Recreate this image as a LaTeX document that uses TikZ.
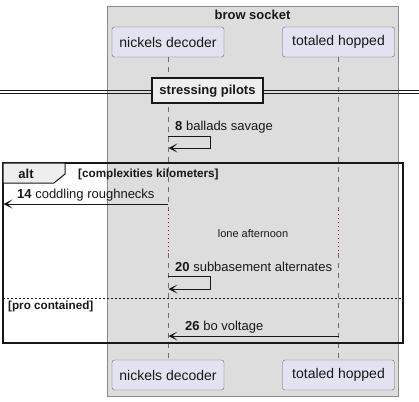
\documentclass[tikz,border=0pt]{standalone}
\usepackage{fontspec}
\setmainfont{Liberation Sans}
\usetikzlibrary{arrows.meta}
\definecolor{boxgray}{HTML}{DDDDDD}
\definecolor{boxline}{HTML}{8A8A8A}
\definecolor{partfill}{HTML}{E2E2F0}
\definecolor{partline}{HTML}{666666}
\definecolor{ink}{HTML}{181818}
\definecolor{tabfill}{HTML}{EEEEEE}
\definecolor{delayred}{HTML}{B00030}
\tikzset{
  part/.style={draw=partline, fill=partfill, rounded corners=2.5pt, minimum width=112pt, minimum height=30pt, inner sep=0pt, font=\fontsize{14}{16}\selectfont, text=ink},
  life/.style={draw=boxline!80!black, dash pattern=on 5pt off 5pt, line width=0.6pt},
  delayline/.style={draw=delayred, dash pattern=on 1pt off 3pt, line width=0.6pt},
  msg/.style={draw=ink, line width=0.9pt, -{Stealth[length=9pt,width=9pt,inset=5pt]}},
  msgtext/.style={anchor=west, inner sep=0pt, font=\fontsize{13}{15}\selectfont, text=ink},
  small/.style={inner sep=0pt, font=\fontsize{11}{13}\selectfont, text=ink},
  smallbold/.style={inner sep=0pt, font=\bfseries\fontsize{11.7}{13}\selectfont, text=ink, anchor=west},
  boldlabel/.style={inner sep=0pt, font=\bfseries\fontsize{13}{15}\selectfont, text=ink}
}
\begin{document}
\begin{tikzpicture}[x=1pt,y=-1pt]
\useasboundingbox (0,0) rectangle (419,401);
% grouping box
\node[name=box, draw=boxline, fill=boxgray, minimum width=291pt, minimum height=390pt, inner sep=0pt, anchor=north west] at (107,6) {};
\node[boldlabel, name=boxtitle] at (252.5,15) {brow socket};
% participants
\node[part, name=nd] at (168,42) {nickels decoder};
\node[part, name=th] at (338.5,42) {totaled hopped};
\node[part, name=ndb] at (168,375) {nickels decoder};
\node[part, name=thb] at (338.5,375) {totaled hopped};
% lifeline coordinates
\coordinate (ndd1) at (168,210);
\coordinate (ndd2) at (168,253);
\coordinate (thd1) at (338.5,210);
\coordinate (thd2) at (338.5,253);
\draw[life] (nd.south) -- (ndd1);
\draw[delayline] (ndd1) -- (ndd2);
\draw[life] (ndd2) -- (ndb.north);
\draw[life] (th.south) -- (thd1);
\draw[delayline] (thd1) -- (thd2);
\draw[life] (thd2) -- (thb.north);
% divider
\coordinate (dl1) at (0,90);
\coordinate (dr1) at (419,90);
\coordinate (dl2) at (0,93.5);
\coordinate (dr2) at (419,93.5);
\draw[ink, line width=0.9pt] (dl1) -- (dr1);
\draw[ink, line width=0.9pt] (dl2) -- (dr2);
\node[name=div, draw=ink, line width=1.5pt, fill=tabfill, minimum width=111pt, minimum height=25pt, inner sep=0pt, font=\bfseries\fontsize{13}{15}\selectfont, text=ink] at (207.5,90.7) {stressing pilots};
% message 8
\node[msgtext, name=m8] at (175,127) {\textbf{8} ballads savage};
\coordinate (s8a) at (168,136);
\coordinate (s8b) at (210,136);
\coordinate (s8c) at (210,148);
\coordinate (s8d) at (168.5,148);
\draw[msg] (s8a) -- (s8b) -- (s8c) -- (s8d);
% alt frame
\coordinate (altnw) at (3,163);
\coordinate (altse) at (403,343);
\draw[ink, line width=1.5pt] (altnw) rectangle (altse);
\draw[ink, line width=1pt, fill=tabfill] (3,163) -- (65,163) -- (65,174) -- (54,183) -- (3,183) -- cycle;
\node[boldlabel, name=alttab] at (26,174) {alt};
\node[smallbold, name=cond1] at (78,174) {[complexities kilometers]};
% message 14
\node[msgtext, name=m14] at (17,195) {\textbf{14} coddling roughnecks};
\coordinate (m14a) at (168,204);
\coordinate (m14b) at (3.5,204);
\draw[msg] (m14a) -- (m14b);
% delay
\node[small, name=delay] at (253,234) {lone afternoon};
% message 20
\node[msgtext, name=m20] at (175,267) {\textbf{20} subbasement alternates};
\coordinate (s20a) at (168,276);
\coordinate (s20b) at (210,276);
\coordinate (s20c) at (210,289);
\coordinate (s20d) at (168.5,289);
\draw[msg] (s20a) -- (s20b) -- (s20c) -- (s20d);
% else
\coordinate (el) at (3,298);
\coordinate (er) at (403,298);
\draw[ink, line width=0.8pt, dash pattern=on 2pt off 2pt] (el) -- (er);
\node[smallbold, name=cond2] at (8,306) {[pro contained]};
% message 26
\node[msgtext, name=m26] at (185,327) {\textbf{26} bo voltage};
\coordinate (m26a) at (338.5,336);
\coordinate (m26b) at (168.5,336);
\draw[msg] (m26a) -- (m26b);
\end{tikzpicture}
\end{document}
